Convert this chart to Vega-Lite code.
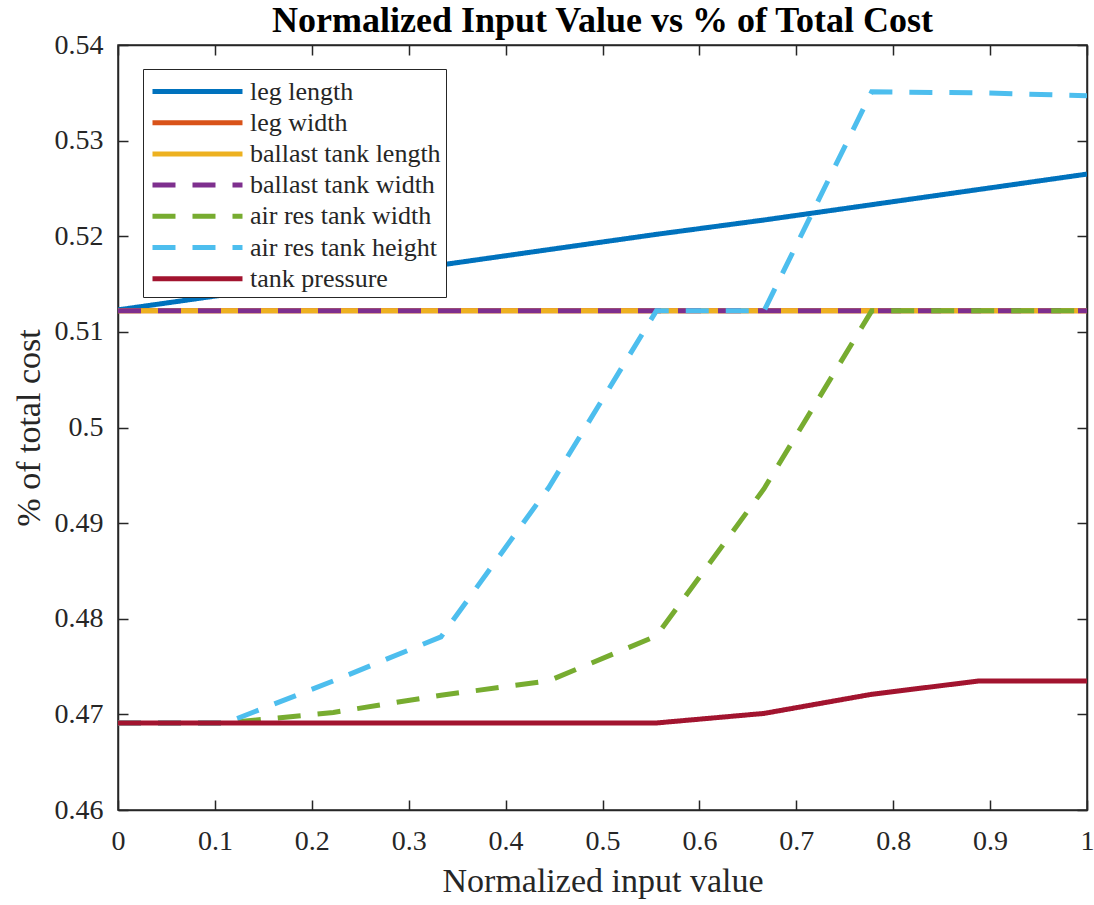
{
  "$schema": "https://vega.github.io/schema/vega-lite/v6.json",
  "width": 969,
  "height": 765,
  "autosize": {"type": "none"},
  "padding": {"left": 118, "top": 45, "right": 7, "bottom": 95},
  "background": "white",
  "title": {
    "text": "Normalized Input Value vs % of Total Cost",
    "font": "Liberation Serif",
    "fontSize": 36,
    "fontWeight": "bold",
    "color": "black",
    "anchor": "middle",
    "offset": -9
  },
  "config": {
    "view": {"stroke": "#262626", "strokeWidth": 1.5},
    "axis": {
      "grid": false,
      "domainColor": "#262626",
      "domainWidth": 1.5,
      "tickColor": "#262626",
      "tickWidth": 1.5,
      "tickSize": -10,
      "labelFont": "Liberation Serif",
      "labelFontSize": 28,
      "labelColor": "#262626",
      "titleFont": "Liberation Serif",
      "titleFontSize": 34,
      "titleFontWeight": "normal",
      "titleColor": "#262626"
    },
    "legend": {
      "orient": "none",
      "legendX": 25,
      "legendY": 24,
      "strokeColor": "#262626",
      "fillColor": "white",
      "padding": 5,
      "symbolType": "M-0.867,0H5.133",
      "symbolSize": 900,
      "symbolStrokeWidth": 5,
      "labelFont": "Liberation Serif",
      "labelFontSize": 26,
      "labelColor": "#262626",
      "labelLimit": 400,
      "rowPadding": 0.2,
      "labelOffset": 67,
      "cornerRadius": 0
    }
  },
  "data": {
    "values": [
      {"series": "leg length", "x": 0, "v": 0.5123},
      {"series": "leg length", "x": 0.1111, "v": 0.5139},
      {"series": "leg length", "x": 0.2222, "v": 0.5154},
      {"series": "leg length", "x": 0.3333, "v": 0.5170},
      {"series": "leg length", "x": 0.4444, "v": 0.5186},
      {"series": "leg length", "x": 0.5556, "v": 0.5202},
      {"series": "leg length", "x": 0.6667, "v": 0.5217},
      {"series": "leg length", "x": 0.7778, "v": 0.5233},
      {"series": "leg length", "x": 0.8889, "v": 0.5249},
      {"series": "leg length", "x": 1, "v": 0.5265},

      {"series": "leg width", "x": 0, "v": 0.5122},
      {"series": "leg width", "x": 0.1111, "v": 0.5122},
      {"series": "leg width", "x": 0.2222, "v": 0.5122},
      {"series": "leg width", "x": 0.3333, "v": 0.5122},
      {"series": "leg width", "x": 0.4444, "v": 0.5122},
      {"series": "leg width", "x": 0.5556, "v": 0.5122},
      {"series": "leg width", "x": 0.6667, "v": 0.5122},
      {"series": "leg width", "x": 0.7778, "v": 0.5122},
      {"series": "leg width", "x": 0.8889, "v": 0.5122},
      {"series": "leg width", "x": 1, "v": 0.5122},

      {"series": "ballast tank length", "x": 0, "v": 0.5122},
      {"series": "ballast tank length", "x": 0.1111, "v": 0.5122},
      {"series": "ballast tank length", "x": 0.2222, "v": 0.5122},
      {"series": "ballast tank length", "x": 0.3333, "v": 0.5122},
      {"series": "ballast tank length", "x": 0.4444, "v": 0.5122},
      {"series": "ballast tank length", "x": 0.5556, "v": 0.5122},
      {"series": "ballast tank length", "x": 0.6667, "v": 0.5122},
      {"series": "ballast tank length", "x": 0.7778, "v": 0.5122},
      {"series": "ballast tank length", "x": 0.8889, "v": 0.5122},
      {"series": "ballast tank length", "x": 1, "v": 0.5122},

      {"series": "ballast tank width", "x": 0, "v": 0.5122},
      {"series": "ballast tank width", "x": 0.1111, "v": 0.5122},
      {"series": "ballast tank width", "x": 0.2222, "v": 0.5122},
      {"series": "ballast tank width", "x": 0.3333, "v": 0.5122},
      {"series": "ballast tank width", "x": 0.4444, "v": 0.5122},
      {"series": "ballast tank width", "x": 0.5556, "v": 0.5122},
      {"series": "ballast tank width", "x": 0.6667, "v": 0.5122},
      {"series": "ballast tank width", "x": 0.7778, "v": 0.5122},
      {"series": "ballast tank width", "x": 0.8889, "v": 0.5122},
      {"series": "ballast tank width", "x": 1, "v": 0.5122},

      {"series": "air res tank width", "x": 0, "v": 0.4691},
      {"series": "air res tank width", "x": 0.1111, "v": 0.4691},
      {"series": "air res tank width", "x": 0.2222, "v": 0.4702},
      {"series": "air res tank width", "x": 0.3333, "v": 0.4720},
      {"series": "air res tank width", "x": 0.4444, "v": 0.4735},
      {"series": "air res tank width", "x": 0.5556, "v": 0.4782},
      {"series": "air res tank width", "x": 0.6667, "v": 0.4936},
      {"series": "air res tank width", "x": 0.7778, "v": 0.5122},
      {"series": "air res tank width", "x": 0.8889, "v": 0.5122},
      {"series": "air res tank width", "x": 1, "v": 0.5122},

      {"series": "air res tank height", "x": 0, "v": 0.4691},
      {"series": "air res tank height", "x": 0.1111, "v": 0.4691},
      {"series": "air res tank height", "x": 0.2222, "v": 0.4735},
      {"series": "air res tank height", "x": 0.3333, "v": 0.4781},
      {"series": "air res tank height", "x": 0.4444, "v": 0.4937},
      {"series": "air res tank height", "x": 0.5556, "v": 0.5122},
      {"series": "air res tank height", "x": 0.6667, "v": 0.5122},
      {"series": "air res tank height", "x": 0.7778, "v": 0.5351},
      {"series": "air res tank height", "x": 0.8889, "v": 0.5350},
      {"series": "air res tank height", "x": 1, "v": 0.5347},

      {"series": "tank pressure", "x": 0, "v": 0.4691},
      {"series": "tank pressure", "x": 0.1111, "v": 0.4691},
      {"series": "tank pressure", "x": 0.2222, "v": 0.4691},
      {"series": "tank pressure", "x": 0.3333, "v": 0.4691},
      {"series": "tank pressure", "x": 0.4444, "v": 0.4691},
      {"series": "tank pressure", "x": 0.5556, "v": 0.4691},
      {"series": "tank pressure", "x": 0.6667, "v": 0.4701},
      {"series": "tank pressure", "x": 0.7778, "v": 0.4721},
      {"series": "tank pressure", "x": 0.8889, "v": 0.4735},
      {"series": "tank pressure", "x": 1, "v": 0.4735}
    ]
  },
  "resolve": {"axis": {"x": "independent", "y": "independent"}},
  "layer": [
    {
      "mark": {"type": "line", "strokeWidth": 5, "clip": true},
      "encoding": {
        "x": {
          "field": "x",
          "type": "quantitative",
          "scale": {"domain": [0, 1], "nice": false, "zero": false},
          "axis": {
            "orient": "bottom",
            "values": [0, 0.1, 0.2, 0.3, 0.4, 0.5, 0.6, 0.7, 0.8, 0.9, 1],
            "format": ".1~f",
            "labelFont": "Liberation Serif",
            "labelPadding": 27,
            "labelFlush": false,
            "title": "Normalized input value",
            "titlePadding": 9
          }
        },
        "y": {
          "field": "v",
          "type": "quantitative",
          "scale": {"domain": [0.46, 0.54], "nice": false, "zero": false},
          "axis": {
            "orient": "left",
            "values": [0.46, 0.47, 0.48, 0.49, 0.5, 0.51, 0.52, 0.53, 0.54],
            "format": ".2~f",
            "labelFont": "Liberation Serif",
            "labelPadding": 25,
            "labelFlush": false,
            "title": "% of total cost",
            "titlePadding": 8
          }
        },
        "color": {
          "field": "series",
          "type": "nominal",
          "title": null,
          "sort": null,
          "scale": {
            "domain": ["leg length", "leg width", "ballast tank length", "ballast tank width", "air res tank width", "air res tank height", "tank pressure"],
            "range": ["#0072BD", "#D95319", "#EDB120", "#7E2F8E", "#77AC30", "#4DBEEE", "#A2142F"]
          }
        },
        "strokeDash": {
          "field": "series",
          "type": "nominal",
          "title": null,
          "sort": null,
          "scale": {
            "domain": ["leg length", "leg width", "ballast tank length", "ballast tank width", "air res tank width", "air res tank height", "tank pressure"],
            "range": [[1, 0], [1, 0], [1, 0], [23, 17], [23, 17], [23, 17], [1, 0]]
          }
        },
        "order": {"field": "x", "type": "quantitative"}
      }
    },
    {
      "mark": {"type": "point", "opacity": 0},
      "encoding": {
        "x": {
          "field": "x",
          "type": "quantitative",
          "axis": {
            "orient": "top",
            "values": [0, 0.1, 0.2, 0.3, 0.4, 0.5, 0.6, 0.7, 0.8, 0.9, 1],
            "labels": false,
            "title": null
          }
        },
        "y": {
          "field": "v",
          "type": "quantitative",
          "axis": {
            "orient": "right",
            "values": [0.46, 0.47, 0.48, 0.49, 0.5, 0.51, 0.52, 0.53, 0.54],
            "labels": false,
            "title": null
          }
        }
      }
    }
  ]
}
